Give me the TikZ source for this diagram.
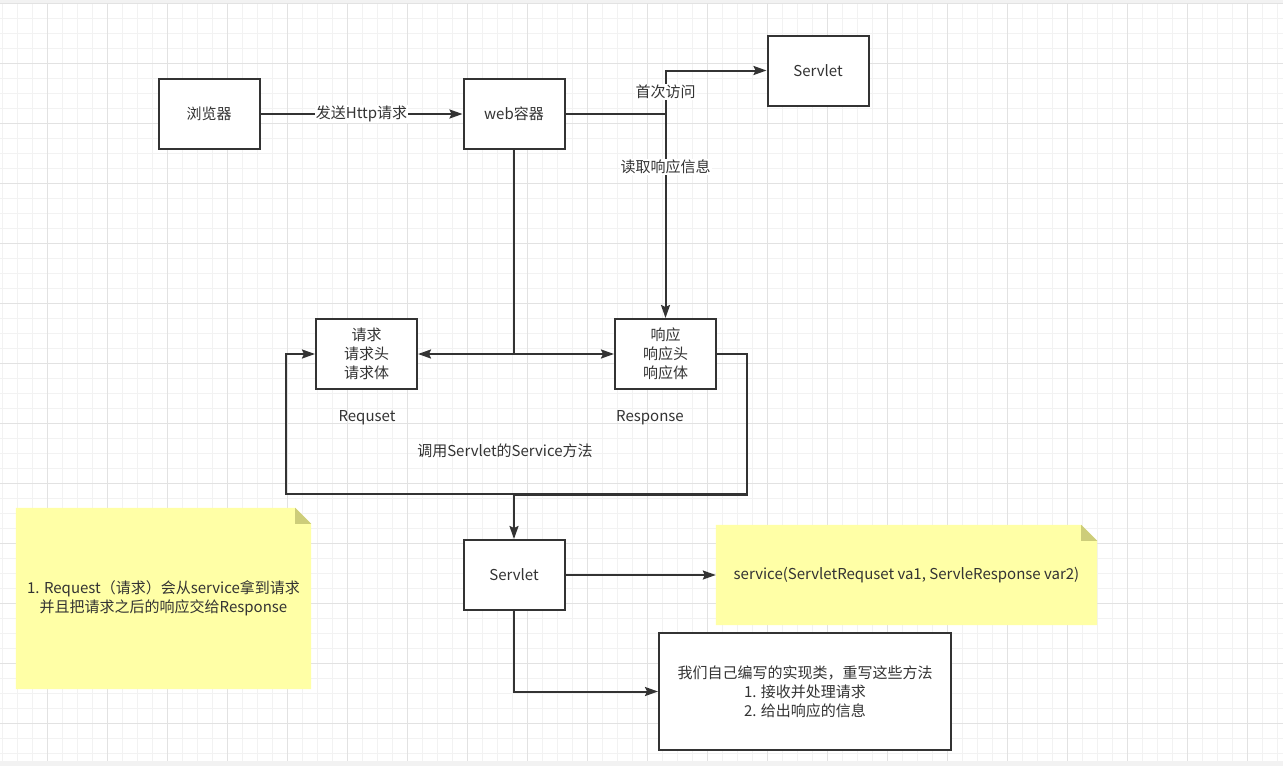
\documentclass[tikz,border=0pt]{standalone}
\usepackage{fontspec}
\setmainfont{Noto Sans CJK SC}
\usepackage{tikz}
\usetikzlibrary{arrows.meta,backgrounds,calc,positioning}
\definecolor{linecol}{HTML}{333333}
\definecolor{txtcol}{HTML}{333333}
\definecolor{notefill}{HTML}{FFFFA6}
\definecolor{notefold}{HTML}{CDCD7A}
\definecolor{gridminor}{HTML}{F2F2F2}
\definecolor{gridmajor}{HTML}{E2E2E2}
\tikzset{
  box/.style={rectangle, draw=linecol, fill=white, line width=2pt, align=center,
    minimum width=101pt, minimum height=70pt, text=txtcol},
  wire/.style={draw=linecol, line width=2pt},
  conn/.style={wire, -{Stealth[length=13pt,width=9pt,inset=2pt]}},
  lbl/.style={fill=white, inner sep=1pt, text=txtcol},
  txt/.style={text=txtcol, inner sep=1pt},
  notebox/.style={align=center, text=txtcol},
}

\begin{document}
\begin{tikzpicture}[x=1pt, y=-1pt, font=\fontsize{15pt}{19pt}\selectfont]
  \useasboundingbox (0,0) rectangle (1283,766);
  % boxes
  \node[box] (browser) at (209,114) {浏览器};
  \node[box, right=202pt of browser] (webc) {web容器};
  \node[box] (servletA) at (818,70.5) {Servlet};
  \node[box] (req) at (366.5,354) {请求\\请求头\\请求体};
  \node[box, right=196pt of req] (resp) {响应\\响应头\\响应体};
  \node[box, below=389pt of webc] (servletB) {Servlet};
  \node[box, minimum width=292pt, minimum height=117pt] (impl) at (805,691.5)
    {我们自己编写的实现类，重写这些方法\\1. 接收并处理请求\\2. 给出响应的信息};
  % notes
  \node[notebox, minimum width=295pt, minimum height=181pt] (noteL) at (163.5,598.5)
    {1. Request（请求）会从service拿到请求\\并且把请求之后的响应交给Response};
  \node[notebox, minimum width=381pt, minimum height=100pt] (noteR) at (906.5,575)
    {service(ServletRequset va1, ServleResponse var2)};
  % free labels
  \node[txt] (reqlbl) at (367,418) {Requset};
  \node[txt] (resplbl) at (650,418) {Response};
  \node[txt] (calllbl) at (505,451) {调用Servlet的Service方法};
  % lines
  \draw[conn] (browser) -- node[lbl]{发送Http请求} (webc);
  \coordinate (fork) at (resp.north |- webc.east);
  \draw[wire] (webc.east) -- (fork);
  \draw[conn] (fork) |- node[lbl, pos=0.25]{首次访问} (servletA.west);
  \draw[conn] (fork) -- node[lbl, pos=0.26]{读取响应信息} (resp.north);
  \coordinate (split) at (webc.south |- req.east);
  \draw[wire] (webc.south) -- (split);
  \draw[conn] (split) -- (req.east);
  \draw[conn] (split) -- (resp.west);
  \coordinate (loopR) at ($(resp.east)+(30,140)$);
  \draw[conn] (resp.east) -| (loopR) -| ($(req.west)+(-29,0)$) -- (req.west);
  \draw[conn] (resp.east) -| ($(loopR)+(0,1)$) -| (servletB.north);
  \draw[conn] (servletB.east) -- (noteR.west |- servletB.east);
  \draw[conn] (servletB.south) |- (impl.west);
  % paper, grid and note sheets
  \begin{scope}[on background layer]
    \fill[white] (0,0) rectangle (1283,766);
    \foreach \gx in {2,17,...,1282} \draw[gridminor, line width=1pt] (\gx,0) -- (\gx,761);
    \foreach \gy in {3,18,...,753} \draw[gridminor, line width=1pt] (0,\gy) -- (1283,\gy);
    \foreach \gx in {47,107,...,1247} \draw[gridmajor, line width=1pt] (\gx,0) -- (\gx,761);
    \foreach \gy in {3,63,...,723} \draw[gridmajor, line width=1pt] (0,\gy) -- (1283,\gy);
    \fill[gridminor] (0,0) rectangle (1283,2.5);
    \fill[gridminor] (0,761) rectangle (1283,766);
    \foreach \n in {noteL,noteR} {
      \fill[notefill] (\n.south west) -- (\n.north west) -- ([xshift=-16pt]\n.north east)
        -- ([yshift=-16pt]\n.north east) -- (\n.south east) -- cycle;
      \fill[notefold] ([xshift=-16pt]\n.north east) -- ([xshift=-16pt,yshift=-16pt]\n.north east)
        -- ([yshift=-16pt]\n.north east) -- cycle;
    }
  \end{scope}
\end{tikzpicture}
\end{document}
